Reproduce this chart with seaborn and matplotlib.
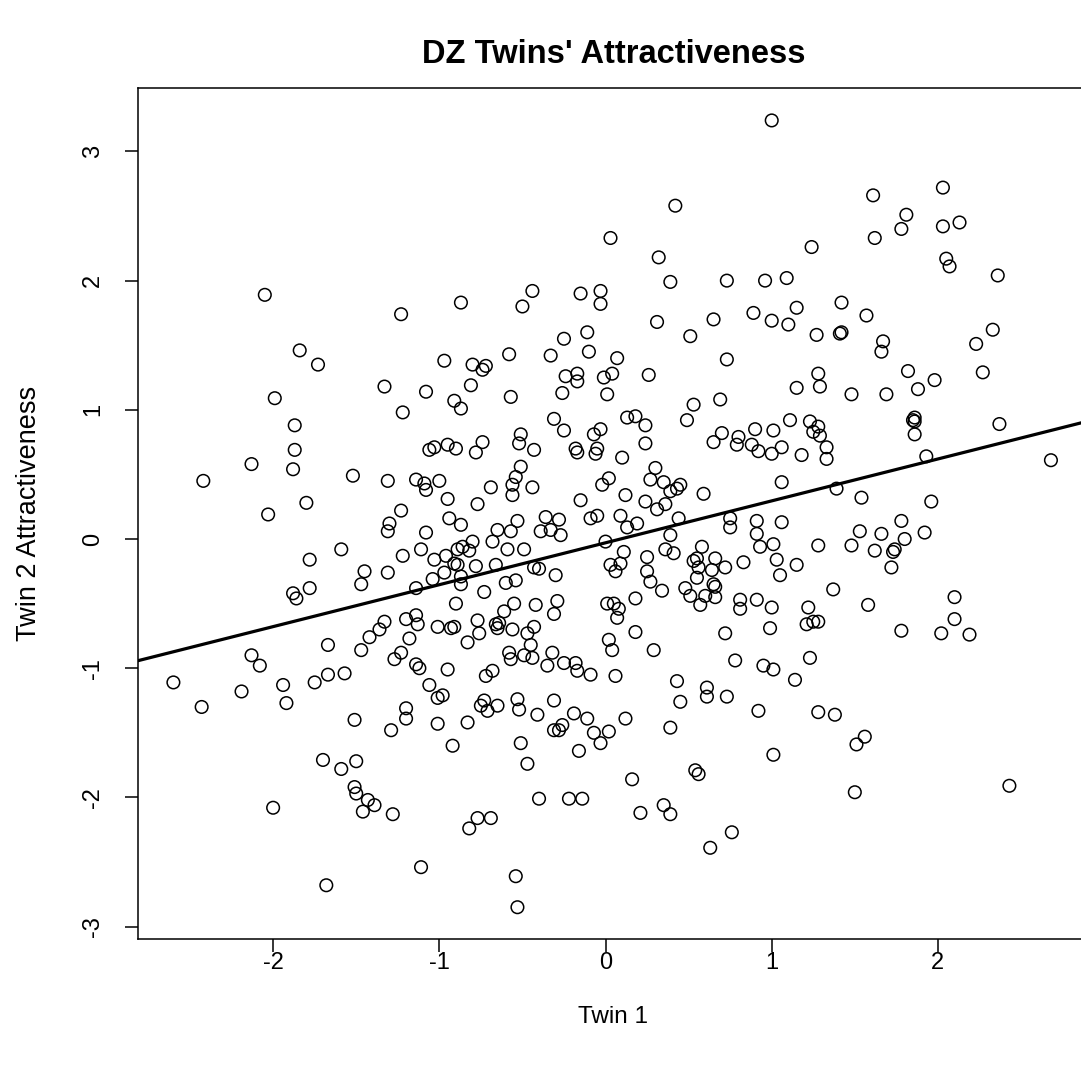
import matplotlib
matplotlib.use("Agg")
import matplotlib.pyplot as plt
import seaborn as sns
import pandas as pd

# ---- data ----
twin1 = [
    -2.05, -1.23, -1.84, -1.73, -0.97, 1.00, 0.42, 0.03, 0.32, -0.87,
    -0.44, -0.50, -0.15, -0.03, -0.03, 0.39, 0.73, 0.96, 0.31, 0.51,
    0.65, 0.89, 1.00, -0.25, -0.11, -0.10, -0.33, -0.58, 0.07, 0.73,
    -0.80, -0.74, -0.72, -0.24, -0.17, -0.17, -0.01, 0.04, 0.26, 1.61,
    2.03, 1.81, 1.78, 1.62, 2.03, 2.13, 2.05, 2.07, 2.36, 1.24,
    1.09, 1.15, 1.10, 1.27, 1.42, 1.41, 1.42, 1.57, 1.67, 1.66,
    2.23, 2.33, 1.28, 1.82, 1.98, 2.27, 1.15, 1.29, 1.48, 1.69,
    1.88, 1.11, 1.23, 1.01, 0.90, 1.28, 1.25, 1.29, 1.33, 1.33,
    1.06, 1.00, 0.92, 1.18, 1.85, 1.86, 1.86, 1.86, 2.37, 1.93,
    2.68, 1.06, 1.39, 1.54, 1.96, 0.91, 1.06, 0.91, 1.01, 0.93,
    1.28, 1.53, 1.66, 1.78, 1.80, 1.92, 1.48, 1.62, 1.74, 1.73,
    1.72, 1.03, 1.15, 1.05, 1.37, 0.91, 1.00, 1.22, 1.58, 2.10,
    1.21, 1.25, 1.28, 0.99, 1.78, 2.10, 2.02, 2.19, 1.23, 0.95,
    1.01, 1.14, 0.92, 1.28, 1.38, 1.56, 1.51, 1.01, 1.50, 2.43,
    -0.58, -0.57, -0.49, -0.44, -0.32, -0.35, -0.25, -0.18, -0.17, -0.09,
    0.04, 0.06, 0.29, 0.78, -0.72, -0.68, -0.73, -0.75, -0.71, -0.65,
    -0.53, -0.52, -0.31, -0.41, -0.19, -0.11, 0.12, -0.83, -0.26, -0.28,
    -0.31, -0.07, 0.02, -0.03, -0.51, -0.16, -0.47, 0.43, 0.61, 0.61,
    0.73, 0.45, 0.39, 0.54, 0.56, 0.16, -0.40, -0.22, -0.14, 0.21,
    0.35, 0.39, 0.76, 0.63, -0.77, -0.69, -0.82, -0.54, -0.53, -2.13,
    -2.08, -1.67, -1.47, -1.27, -1.23, -1.14, -1.12, -0.95, -2.60, -2.43,
    -2.19, -1.94, -1.92, -1.75, -1.67, -1.57, -1.51, -1.29, -1.20, -1.20,
    -1.06, -1.01, -0.98, -1.01, -0.92, -1.70, -1.59, -1.50, -1.51, -1.50,
    -1.43, -1.39, -1.46, -1.28, -2.00, -1.11, -1.68, -1.33, -1.08, -0.91,
    -0.87, -1.99, -1.22, -1.87, -1.87, -2.13, -1.88, -2.42, -1.52, -1.31,
    -1.14, -1.09, -1.08, -1.00, -1.06, -1.03, -0.95, -0.90, -0.95, -0.94,
    -1.80, -2.03, -1.23, -1.30, -1.31, -1.08, -1.59, -1.78, -1.11, -1.22,
    -1.03, -0.96, -0.91, -1.45, -1.47, -1.31, -1.04, -0.97, -1.14, -1.78,
    -1.88, -1.86, -0.90, -1.33, -1.36, -1.42, -1.20, -1.14, -1.13, -1.18,
    -1.01, -0.93, -0.91, -0.81, -0.57, -0.26, 0.01, 0.53, 0.69, 0.49,
    -0.31, -0.25, 0.13, 0.18, 0.24, 0.24, -0.07, -0.03, -0.51, -0.52,
    -0.74, -0.78, -0.43, -0.18, -0.17, -0.06, -0.05, 0.10, 0.65, 0.70,
    0.80, 0.79, 0.88, -0.51, 0.30, 0.27, 0.35, 0.39, 0.43, 0.45,
    -0.54, -0.56, -0.56, -0.44, -0.69, 0.02, -0.02, 0.12, 0.59, -0.15,
    0.24, 0.31, 0.36, -0.77, -0.87, -0.53, -0.65, -0.57, -0.36, -0.39,
    -0.33, -0.28, -0.27, -0.09, -0.05, 0.09, 0.13, 0.19, 0.44, 0.39,
    0.75, 0.75, 0.00, -0.68, -0.80, -0.86, -0.82, -0.89, -0.89, -0.59,
    -0.49, -0.78, -0.66, -0.43, -0.40, -0.30, -0.87, -0.87, -0.60, -0.54,
    -0.73, 0.03, 0.06, 0.09, 0.11, 0.25, 0.25, 0.27, 0.36, 0.41,
    0.53, 0.55, 0.58, 0.56, 0.55, 0.64, 0.66, 0.72, 0.83, 0.65,
    0.66, 0.66, 0.60, 0.48, 0.51, 0.57, 0.34, 0.18, 0.01, 0.05,
    0.08, 0.07, 0.81, 0.81, 0.72, -0.55, -0.42, -0.29, -0.31, -0.61,
    -0.77, -0.76, -0.66, -0.65, -0.64, -0.56, -0.47, -0.43, -0.45, -0.83,
    0.02, 0.18,
]
twin2 = [
    1.89, 1.74, 1.46, 1.35, 1.38, 3.24, 2.58, 2.33, 2.18, 1.83,
    1.92, 1.80, 1.90, 1.92, 1.82, 1.99, 2.00, 2.00, 1.68, 1.57,
    1.70, 1.75, 1.69, 1.55, 1.60, 1.45, 1.42, 1.43, 1.40, 1.39,
    1.35, 1.31, 1.34, 1.26, 1.28, 1.22, 1.25, 1.28, 1.27, 2.66,
    2.72, 2.51, 2.40, 2.33, 2.42, 2.45, 2.17, 2.11, 2.04, 2.26,
    2.02, 1.79, 1.66, 1.58, 1.83, 1.59, 1.60, 1.73, 1.53, 1.45,
    1.51, 1.62, 1.28, 1.30, 1.23, 1.29, 1.17, 1.18, 1.12, 1.12,
    1.16, 0.92, 0.91, 0.84, 0.85, 0.87, 0.83, 0.80, 0.71, 0.62,
    0.71, 0.66, 0.68, 0.65, 0.92, 0.94, 0.91, 0.81, 0.89, 0.64,
    0.61, 0.44, 0.39, 0.32, 0.29, 0.14, 0.13, 0.04, -0.04, -0.06,
    -0.05, 0.06, 0.04, 0.14, 0.00, 0.05, -0.05, -0.09, -0.08, -0.10,
    -0.22, -0.16, -0.20, -0.28, -0.39, -0.47, -0.53, -0.53, -0.51, -0.45,
    -0.66, -0.64, -0.64, -0.69, -0.71, -0.62, -0.73, -0.74, -0.92, -0.98,
    -1.01, -1.09, -1.33, -1.34, -1.36, -1.53, -1.59, -1.67, -1.96, -1.91,
    -0.88, -0.93, -0.90, -0.92, -0.88, -0.98, -0.96, -0.96, -1.02, -1.05,
    -0.86, -1.06, -0.86, -0.94, -1.06, -1.02, -1.25, -1.29, -1.33, -1.29,
    -1.24, -1.32, -1.25, -1.36, -1.35, -1.39, -1.39, -1.42, -1.44, -1.48,
    -1.48, -1.50, -1.49, -1.58, -1.58, -1.64, -1.74, -1.10, -1.15, -1.22,
    -1.22, -1.26, -1.46, -1.79, -1.82, -1.86, -2.01, -2.01, -2.01, -2.12,
    -2.06, -2.13, -2.27, -2.39, -2.16, -2.16, -2.24, -2.61, -2.85, -0.90,
    -0.98, -0.82, -0.86, -0.93, -0.88, -0.97, -1.00, -1.01, -1.11, -1.30,
    -1.18, -1.13, -1.27, -1.11, -1.05, -1.04, -1.40, -1.48, -1.31, -1.39,
    -1.13, -1.23, -1.21, -1.43, -1.60, -1.71, -1.78, -1.72, -1.92, -1.97,
    -2.02, -2.06, -2.11, -2.13, -2.08, -2.54, -2.68, 1.18, 1.14, 1.07,
    1.01, 1.09, 0.98, 0.88, 0.69, 0.58, 0.54, 0.45, 0.49, 0.45,
    0.46, 0.43, 0.38, 0.45, 0.69, 0.71, 0.73, 0.70, 0.31, 0.16,
    0.28, 0.19, 0.22, 0.12, 0.06, 0.05, -0.08, -0.16, -0.08, -0.13,
    -0.16, -0.13, -0.19, -0.25, -0.35, -0.26, -0.31, -0.26, -0.38, -0.38,
    -0.42, -0.46, -0.50, -0.64, -0.70, -0.76, -0.62, -0.59, -0.66, -0.77,
    -0.68, -0.69, -0.68, 1.19, 1.10, 1.13, 1.12, 1.04, 1.08, 0.92,
    0.93, 0.84, 0.94, 0.95, 0.88, 0.74, 0.81, 0.85, 0.81, 0.74,
    0.75, 0.67, 0.69, 0.70, 0.67, 0.66, 0.70, 0.63, 0.75, 0.82,
    0.79, 0.73, 0.73, 0.56, 0.55, 0.46, 0.44, 0.37, 0.39, 0.42,
    0.48, 0.42, 0.34, 0.40, 0.40, 0.47, 0.42, 0.34, 0.35, 0.30,
    0.29, 0.23, 0.27, 0.27, 0.11, 0.14, 0.07, 0.06, 0.17, 0.06,
    0.07, 0.15, 0.03, 0.16, 0.18, 0.18, 0.09, 0.12, 0.16, 0.03,
    0.16, 0.09, -0.02, -0.02, -0.02, -0.06, -0.09, -0.08, -0.20, -0.08,
    -0.08, -0.21, -0.20, -0.22, -0.23, -0.28, -0.29, -0.35, -0.34, -0.32,
    -0.41, -0.20, -0.25, -0.19, -0.10, -0.14, -0.25, -0.33, -0.08, -0.11,
    -0.17, -0.15, -0.06, -0.22, -0.30, -0.24, -0.15, -0.22, -0.18, -0.35,
    -0.37, -0.45, -0.44, -0.38, -0.44, -0.51, -0.40, -0.46, -0.50, -0.50,
    -0.54, -0.61, -0.47, -0.54, -0.73, -0.50, -0.51, -0.48, -0.58, -0.56,
    -0.63, -0.73, -0.66, -0.69, -0.65, -0.70, -0.73, -0.68, -0.82, -0.80,
    -0.78, -0.72,
]
x_ticks = [-2, -1, 0, 1, 2]
y_ticks = [-3, -2, -1, 0, 1, 2, 3]
x_limits = (-2.813, 2.909)
y_limits = (-3.096, 3.491)
title_text = "DZ Twins' Attractiveness"
x_label = "Twin 1"
y_label = "Twin 2 Attractiveness"

# ---- style ----
sns.set_theme(style="ticks")
plt.rcParams['font.family'] = ['Liberation Sans', 'DejaVu Sans']
plt.rcParams['axes.unicode_minus'] = False

df = pd.DataFrame({"twin1": twin1, "twin2": twin2})

fig = plt.figure(figsize=(10.81, 10.74), dpi=100)
fig.patch.set_facecolor("white")
ax = fig.add_axes([138 / 1081, 135 / 1074, 951 / 1081, 851 / 1074])
ax.set_facecolor("white")
ax.set_xlim(*x_limits)
ax.set_ylim(*y_limits)

sns.regplot(
    data=df, x="twin1", y="twin2", ax=ax, ci=None, truncate=False,
    scatter_kws=dict(s=82, facecolors="none", edgecolors="black",
                     linewidths=1.1, alpha=1, zorder=3),
    line_kws=dict(color="black", lw=2.3, zorder=4),
)
ax.set_xlim(*x_limits)
ax.set_ylim(*y_limits)

for side in ["top", "right", "bottom", "left"]:
    ax.spines[side].set_visible(True)
    ax.spines[side].set_color("black")
    ax.spines[side].set_linewidth(1.1)

ax.set_xticks(x_ticks)
ax.set_yticks(y_ticks)
ax.set_xticklabels([str(t) for t in x_ticks])
ax.set_yticklabels([str(t) for t in y_ticks])
ax.tick_params(axis="both", which="major", direction="out", length=9.4,
               width=1.1, color="black", labelcolor="black", labelsize=17,
               top=False, right=False)
ax.tick_params(axis="x", pad=0)
ax.tick_params(axis="y", pad=15, labelrotation=90)
for lbl in ax.get_yticklabels():
    lbl.set_verticalalignment("center")

ax.set_title(title_text, fontsize=23.5, fontweight="bold", color="black", pad=18)
ax.set_xlabel(x_label, fontsize=17.5, color="black", labelpad=23)
ax.set_ylabel(y_label, fontsize=19.5, color="black", labelpad=29)
ax.grid(False)

fig.savefig("out.png", dpi=100, facecolor="white")
